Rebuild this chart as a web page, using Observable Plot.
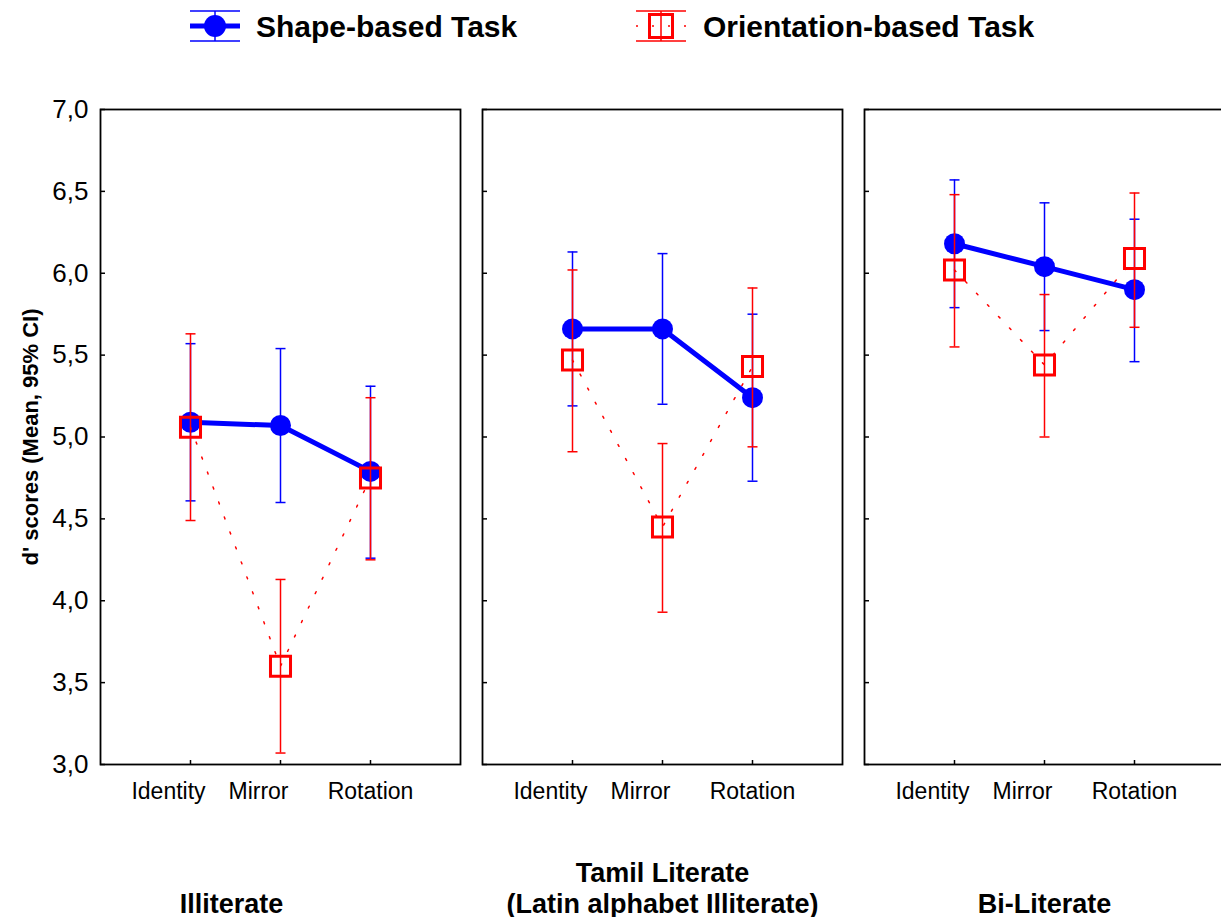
<!DOCTYPE html>
<html><head><meta charset="utf-8">
<script src="https://cdn.jsdelivr.net/npm/d3@7"></script>
<script src="https://cdn.jsdelivr.net/npm/@observablehq/plot@0.6"></script>
<style>
body{margin:0;background:#fff;}
svg{display:block;}
</style></head><body>
<div id="legend"></div>
<div id="chart"></div>
<script>
const FONT = '"Liberation Sans", Arial, Helvetica, sans-serif';
const groups = ["Illiterate", "Tamil Literate\n(Latin alphabet Illiterate)", "Bi-Literate"];
const conditions = ["Identity", "Mirror", "Rotation"];
const yTicks = [3, 3.5, 4, 4.5, 5, 5.5, 6, 6.5, 7];
const seriesNames = ["Shape-based Task", "Orientation-based Task"];
const yLabel = "d' scores (Mean, 95% CI)";

// values in order: group 1 (Identity, Mirror, Rotation), group 2, group 3
const shapeMean = [5.09, 5.07, 4.79, 5.66, 5.66, 5.24, 6.18, 6.04, 5.90];
const shapeLow  = [4.61, 4.60, 4.26, 5.19, 5.20, 4.73, 5.79, 5.65, 5.46];
const shapeHigh = [5.57, 5.54, 5.31, 6.13, 6.12, 5.75, 6.57, 6.43, 6.33];
const orientMean = [5.06, 3.60, 4.75, 5.47, 4.45, 5.43, 6.02, 5.44, 6.09];
const orientLow  = [4.49, 3.07, 4.25, 4.91, 3.93, 4.94, 5.55, 5.00, 5.67];
const orientHigh = [5.63, 4.13, 5.24, 6.02, 4.96, 5.91, 6.48, 5.87, 6.49];

const BLUE = "#0000ff", RED = "#ff0000";
const rows = groups.flatMap((g, gi) => conditions.map((c, ci) => ({group: g, cond: c, i: gi * 3 + ci})));
const shape = rows.map(r => ({...r, mean: shapeMean[r.i], lo: shapeLow[r.i], hi: shapeHigh[r.i]}));
const orient = rows.map(r => ({...r, mean: orientMean[r.i], lo: orientLow[r.i], hi: orientHigh[r.i]}));
const fmt = d => d.toFixed(1).replace(".", ",");
const capSymbol = {draw(ctx) { ctx.moveTo(-5, 0); ctx.lineTo(5, 0); }};

// Legend
const lg = d3.select("#legend").append("svg").attr("width", 1221).attr("height", 60)
  .style("font-family", FONT);
function sym(g, isShape) {
  const c = isShape ? BLUE : RED;
  g.append("line").attr("x1", 0).attr("x2", 50).attr("y1", 11).attr("y2", 11).attr("stroke", c).attr("stroke-width", 1.5);
  g.append("line").attr("x1", 0).attr("x2", 50).attr("y1", 41).attr("y2", 41).attr("stroke", c).attr("stroke-width", 1.5);
  g.append("line").attr("x1", 25).attr("x2", 25).attr("y1", 11).attr("y2", 41).attr("stroke", c).attr("stroke-width", 1.5);
  if (isShape) {
    g.append("line").attr("x1", 0).attr("x2", 50).attr("y1", 26).attr("y2", 26).attr("stroke", c).attr("stroke-width", 5);
    g.append("circle").attr("cx", 25).attr("cy", 26).attr("r", 11).attr("fill", c);
  } else {
    g.append("line").attr("x1", 0).attr("x2", 50).attr("y1", 26).attr("y2", 26).attr("stroke", c).attr("stroke-width", 1.5).attr("stroke-dasharray", "2,14");
    g.append("rect").attr("x", 13.5).attr("y", 14.5).attr("width", 23).attr("height", 23).attr("fill", "none").attr("stroke", c).attr("stroke-width", 3);
  }
}
sym(lg.append("g").attr("transform", "translate(190,0)"), true);
sym(lg.append("g").attr("transform", "translate(636,0)"), false);
lg.append("text").attr("x", 256).attr("y", 37).attr("font-size", 30).attr("font-weight", "bold").text(seriesNames[0]);
lg.append("text").attr("x", 703).attr("y", 37).attr("font-size", 30).attr("font-weight", "bold").text(seriesNames[1]);

const chart = Plot.plot({
  width: 1221, height: 857,
  marginTop: 49, marginBottom: 153, marginLeft: 100, marginRight: -3,
  style: {fontFamily: FONT, background: "white", color: "black", overflow: "visible"},
  fx: {domain: groups, paddingInner: 22 / 382, paddingOuter: 0, axis: null},
  x: {type: "point", domain: conditions, padding: 1},
  y: {domain: [3, 7]},
  marks: [
    Plot.frame({stroke: "black", strokeWidth: 1.8}),
    Plot.axisY(yTicks, {tickSize: -5, tickFormat: () => "", facetAnchor: null, strokeWidth: 1.5, label: null}),
    Plot.axisY(yTicks, {tickSize: 0, tickPadding: 12, tickFormat: fmt, fontSize: 26, label: null}),
    Plot.axisX(conditions, {tickSize: -4, tickFormat: () => "", strokeWidth: 1.5, label: null}),
    Plot.text(conditions.slice(0, 2), {x: d => d, frameAnchor: "bottom", lineAnchor: "top", dy: 18, dx: -22, fontSize: 23}),
    Plot.text(conditions.slice(2), {x: d => d, frameAnchor: "bottom", lineAnchor: "top", dy: 18, fontSize: 23}),
    Plot.text([groups[0]], {fx: d => d, text: d => d, frameAnchor: "bottom", lineAnchor: "bottom", dy: 148, dx: -49, fontSize: 27, fontWeight: "bold"}),
    Plot.text(groups.slice(1), {fx: d => d, text: d => d, frameAnchor: "bottom", lineAnchor: "bottom", dy: 148, fontSize: 27, fontWeight: "bold", lineHeight: 1.12}),
    Plot.text([yLabel], {fx: () => groups[0], text: d => d, frameAnchor: "left", textAnchor: "middle", rotate: -90, dx: -70, fontSize: 22, fontWeight: "bold"}),
    // Shape-based
    Plot.line(shape, {x: "cond", y: "mean", fx: "group", stroke: BLUE, strokeWidth: 5}),
    Plot.ruleX(shape, {x: "cond", y1: "lo", y2: "hi", fx: "group", stroke: BLUE, strokeWidth: 1.5}),
    Plot.dot(shape, {x: "cond", y: "lo", fx: "group", symbol: capSymbol, stroke: BLUE, strokeWidth: 1.5}),
    Plot.dot(shape, {x: "cond", y: "hi", fx: "group", symbol: capSymbol, stroke: BLUE, strokeWidth: 1.5}),
    Plot.dot(shape, {x: "cond", y: "mean", fx: "group", r: 10.5, fill: BLUE, stroke: "none"}),
    // Orientation-based
    Plot.line(orient, {x: "cond", y: "mean", fx: "group", stroke: RED, strokeWidth: 1.5, strokeDasharray: "2,14"}),
    Plot.ruleX(orient, {x: "cond", y1: "lo", y2: "hi", fx: "group", stroke: RED, strokeWidth: 1.5}),
    Plot.dot(orient, {x: "cond", y: "lo", fx: "group", symbol: capSymbol, stroke: RED, strokeWidth: 1.5}),
    Plot.dot(orient, {x: "cond", y: "hi", fx: "group", symbol: capSymbol, stroke: RED, strokeWidth: 1.5}),
    Plot.dot(orient, {x: "cond", y: "mean", fx: "group", symbol: "square", r: 11.3, fill: "none", stroke: RED, strokeWidth: 3})
  ]
});
document.getElementById("chart").appendChild(chart);
</script>
</body></html>
